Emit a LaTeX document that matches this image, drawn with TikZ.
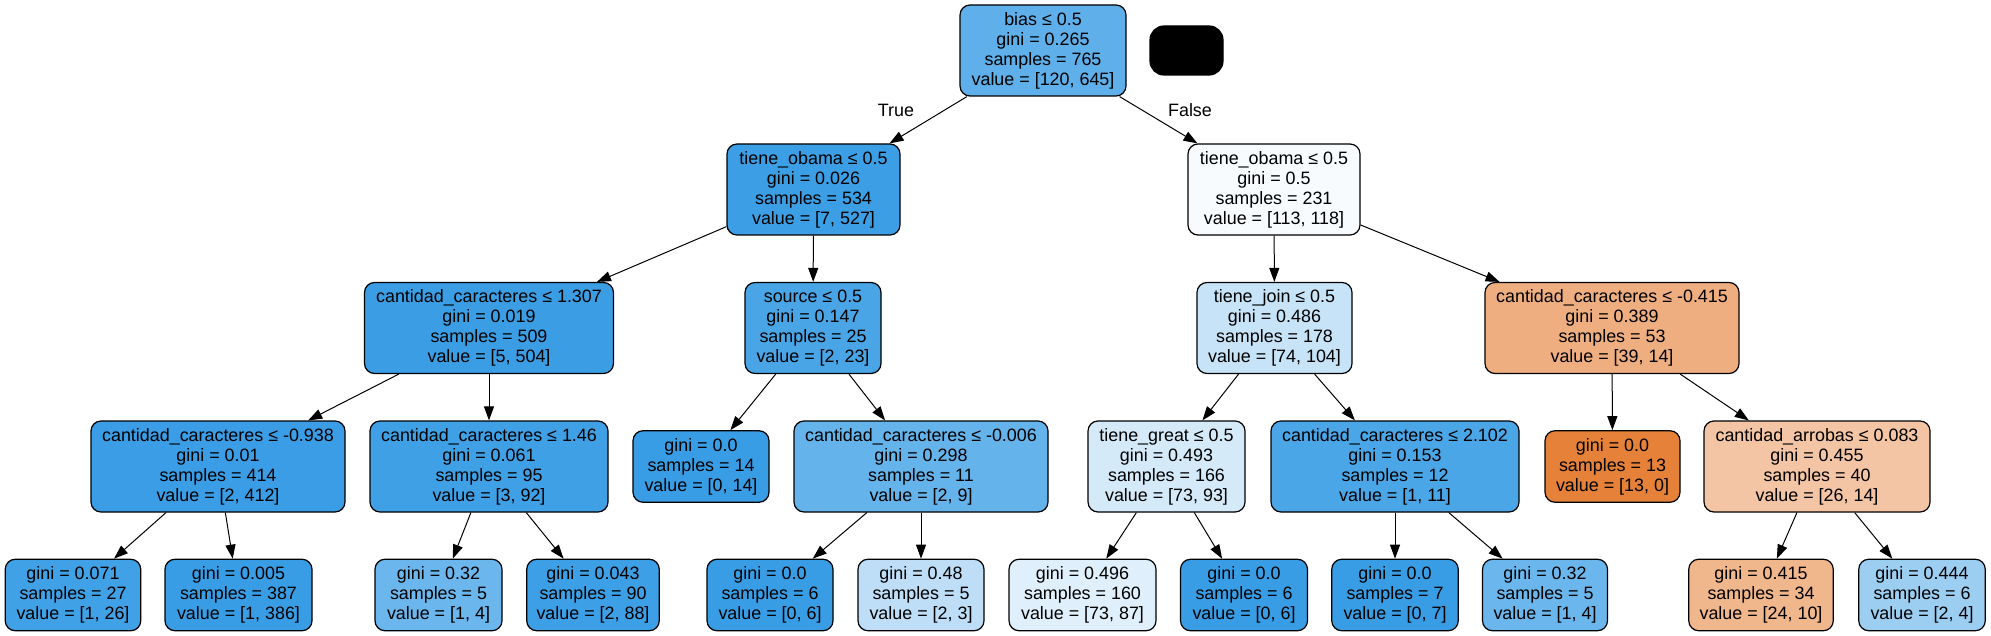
\documentclass[tikz,border=0pt]{standalone}
\usepackage{fontspec}
\setmainfont{Liberation Sans}
\usetikzlibrary{arrows.meta}
\definecolor{cRoot}{RGB}{94,175,234}
\definecolor{cA}{RGB}{60,158,229}
\definecolor{cB}{RGB}{247,251,254}
\definecolor{cC}{RGB}{59,158,229}
\definecolor{cD}{RGB}{74,165,231}
\definecolor{cE}{RGB}{198,227,247}
\definecolor{cF}{RGB}{238,174,128}
\definecolor{cG}{RGB}{58,157,229}
\definecolor{cH}{RGB}{64,160,230}
\definecolor{cBlue}{RGB}{57,157,229}
\definecolor{cI}{RGB}{101,179,235}
\definecolor{cJ}{RGB}{212,234,249}
\definecolor{cK}{RGB}{75,166,231}
\definecolor{cOrange}{RGB}{229,129,57}
\definecolor{cL}{RGB}{243,197,164}
\definecolor{cM}{RGB}{65,161,230}
\definecolor{cN}{RGB}{107,182,236}
\definecolor{cO}{RGB}{61,159,230}
\definecolor{cP}{RGB}{189,222,246}
\definecolor{cQ}{RGB}{223,239,251}
\definecolor{cR}{RGB}{240,182,140}
\definecolor{cS}{RGB}{156,206,242}
\tikzset{
  nd/.style={draw=black, line width=0.6pt, rounded corners=5pt, align=center,
    inner sep=0pt, font=\fontsize{8.95}{10}\selectfont},
  wd/.style={minimum width=#1*0.5pt},
  four/.style={minimum height=45.5pt},
  three/.style={minimum height=35.75pt},
  lbl/.style={font=\fontsize{8.95}{10}\selectfont, inner sep=0pt},
  edge/.style={draw=black, line width=0.5pt, -{Triangle[length=7pt,width=5pt]}}
}
\begin{document}
\begin{tikzpicture}[x=0.5pt,y=-0.5pt]
\useasboundingbox[fill=white] (0,0) rectangle (1991,636);
% level 0
\node[nd, four, wd=166, fill=cRoot] (root) at (1043,50.5) {bias ≤ 0.5\\gini = 0.265\\samples = 765\\value = [120, 645]};
\node[nd, wd=73, minimum height=24.5pt, fill=black, rounded corners=7pt] (blk) at (1186.5,50.5) {};
% level 1
\node[nd, four, wd=173, fill=cA] (oa) at (813.5,189.5) {tiene\_obama ≤ 0.5\\gini = 0.026\\samples = 534\\value = [7, 527]};
\node[nd, four, wd=172, fill=cB] (ob) at (1274,189.5) {tiene\_obama ≤ 0.5\\gini = 0.5\\samples = 231\\value = [113, 118]};
% level 2
\node[nd, four, wd=249, fill=cC] (c1) at (489,328) {cantidad\_caracteres ≤ 1.307\\gini = 0.019\\samples = 509\\value = [5, 504]};
\node[nd, four, wd=136, fill=cD] (src) at (813,328) {source ≤ 0.5\\gini = 0.147\\samples = 25\\value = [2, 23]};
\node[nd, four, wd=155, fill=cE] (join) at (1274.5,328) {tiene\_join ≤ 0.5\\gini = 0.486\\samples = 178\\value = [74, 104]};
\node[nd, four, wd=254, fill=cF] (c2) at (1612,328) {cantidad\_caracteres ≤ -0.415\\gini = 0.389\\samples = 53\\value = [39, 14]};
% level 3
\node[nd, four, wd=254, fill=cG] (c3) at (218,466.5) {cantidad\_caracteres ≤ -0.938\\gini = 0.01\\samples = 414\\value = [2, 412]};
\node[nd, four, wd=238, fill=cH] (c4) at (489,466.5) {cantidad\_caracteres ≤ 1.46\\gini = 0.061\\samples = 95\\value = [3, 92]};
\node[nd, three, wd=136, fill=cBlue] (l14) at (701,466.5) {gini = 0.0\\samples = 14\\value = [0, 14]};
\node[nd, four, wd=254, fill=cI] (c5) at (921,466.5) {cantidad\_caracteres ≤ -0.006\\gini = 0.298\\samples = 11\\value = [2, 9]};
\node[nd, four, wd=157, fill=cJ] (great) at (1166.5,466.5) {tiene\_great ≤ 0.5\\gini = 0.493\\samples = 166\\value = [73, 93]};
\node[nd, four, wd=248, fill=cK] (c6) at (1395,466.5) {cantidad\_caracteres ≤ 2.102\\gini = 0.153\\samples = 12\\value = [1, 11]};
\node[nd, three, wd=135, fill=cOrange] (l13) at (1612.5,466.5) {gini = 0.0\\samples = 13\\value = [13, 0]};
\node[nd, four, wd=226, fill=cL] (arr) at (1817,466.5) {cantidad\_arrobas ≤ 0.083\\gini = 0.455\\samples = 40\\value = [26, 14]};
% level 4
\node[nd, three, wd=135.5, fill=cM] (f1) at (73,595) {gini = 0.071\\samples = 27\\value = [1, 26]};
\node[nd, three, wd=147, fill=cBlue] (f2) at (238.5,595) {gini = 0.005\\samples = 387\\value = [1, 386]};
\node[nd, three, wd=127, fill=cN] (f3) at (438.5,595) {gini = 0.32\\samples = 5\\value = [1, 4]};
\node[nd, three, wd=132.5, fill=cO] (f4) at (593,595) {gini = 0.043\\samples = 90\\value = [2, 88]};
\node[nd, three, wd=126, fill=cBlue] (f5) at (770,595) {gini = 0.0\\samples = 6\\value = [0, 6]};
\node[nd, three, wd=126, fill=cP] (f6) at (921,595) {gini = 0.48\\samples = 5\\value = [2, 3]};
\node[nd, three, wd=147, fill=cQ] (f7) at (1082.5,595) {gini = 0.496\\samples = 160\\value = [73, 87]};
\node[nd, three, wd=127, fill=cBlue] (f8) at (1244,595) {gini = 0.0\\samples = 6\\value = [0, 6]};
\node[nd, three, wd=126.5, fill=cBlue] (f9) at (1395,595) {gini = 0.0\\samples = 7\\value = [0, 7]};
\node[nd, three, wd=125, fill=cN] (f10) at (1545,595) {gini = 0.32\\samples = 5\\value = [1, 4]};
\node[nd, three, wd=144.5, fill=cR] (f11) at (1761,595) {gini = 0.415\\samples = 34\\value = [24, 10]};
\node[nd, three, wd=126.5, fill=cS] (f12) at (1922,595) {gini = 0.444\\samples = 6\\value = [2, 4]};
% labels
\node[lbl] (tlbl) at (896,110) {True};
\node[lbl] (flbl) at (1190,110) {False};
% edges
\draw[edge] (root) -- (oa);
\draw[edge] (root) -- (ob);
\draw[edge] (oa) -- (c1);
\draw[edge] (oa) -- (src);
\draw[edge] (ob) -- (join);
\draw[edge] (ob) -- (c2);
\draw[edge] (c1) -- (c3);
\draw[edge] (c1) -- (c4);
\draw[edge] (src) -- (l14);
\draw[edge] (src) -- (c5);
\draw[edge] (join) -- (great);
\draw[edge] (join) -- (c6);
\draw[edge] (c2) -- (l13);
\draw[edge] (c2) -- (arr);
\draw[edge] (c3) -- (f1);
\draw[edge] (c3) -- (f2);
\draw[edge] (c4) -- (f3);
\draw[edge] (c4) -- (f4);
\draw[edge] (c5) -- (f5);
\draw[edge] (c5) -- (f6);
\draw[edge] (great) -- (f7);
\draw[edge] (great) -- (f8);
\draw[edge] (c6) -- (f9);
\draw[edge] (c6) -- (f10);
\draw[edge] (arr) -- (f11);
\draw[edge] (arr) -- (f12);
\end{tikzpicture}
\end{document}
